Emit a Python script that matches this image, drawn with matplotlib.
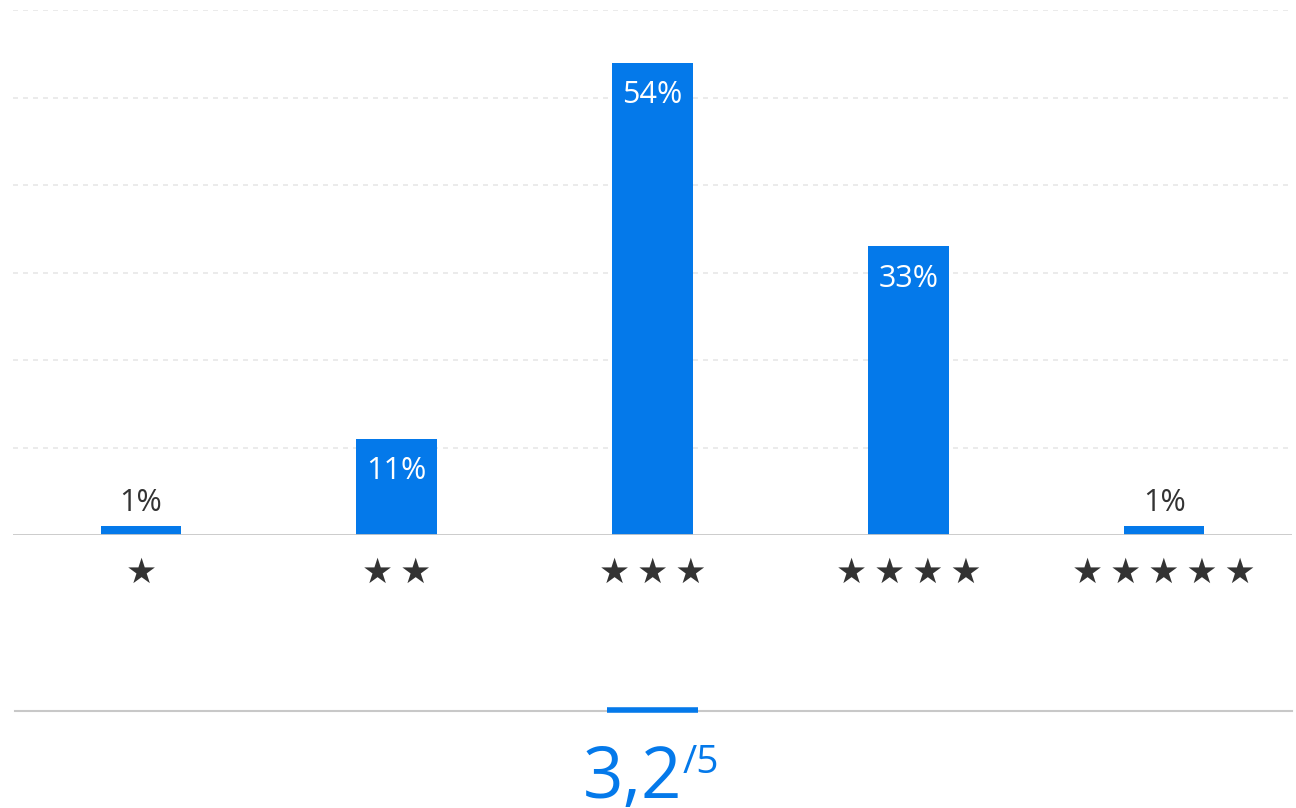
import matplotlib
matplotlib.use("Agg")
import matplotlib.pyplot as plt
from matplotlib.lines import Line2D

# Rating distribution (share of reviews per star level, in %)
ratings = [1, 2, 3, 4, 5]
shares = [1, 11, 54, 33, 1]
star_labels = ["\u2009".join("★" * r) for r in ratings]
max_rating = 5

BLUE = "#0479EA"
DARK = "#333333"
FONT = "Open Sans"

fig = plt.figure(figsize=(12.96, 8.08), dpi=100)
W, H = 1296, 808

ax = fig.add_axes([13 / W, 1 - 535 / H, (1292 - 13) / W, (535 - 10) / H])
ax.set_xlim(-0.5, len(ratings) - 0.5)
ax.set_ylim(0, 60)

x = list(range(len(ratings)))
bars = ax.bar(x, shares, width=0.315, color=BLUE, zorder=3)

# light dashed horizontal grid
for y in range(10, 61, 10):
    ax.axhline(y, color="#e8e8e8", lw=1.2, ls=(0, (3, 3)), zorder=1)
ax.axhline(0, color="#c8c8c8", lw=2, zorder=4)

for spine in ax.spines.values():
    spine.set_visible(False)
ax.set_yticks([])
ax.set_xticks(x)
ax.set_xticklabels(star_labels, fontsize=25, color=DARK, family=["DejaVu Sans"])
ax.tick_params(axis="x", length=0, pad=15)

# value labels: inside tall bars, above short ones
for xi, v in zip(x, shares):
    if v >= 5:
        ax.annotate(f"{v}%", (xi, v), xytext=(0, -23.5), textcoords="offset points",
                    ha="center", va="center", fontsize=22, color="white", family=FONT, zorder=5)
    else:
        ax.annotate(f"{v}%", (xi, v), xytext=(0, 16.5), textcoords="offset points",
                    ha="center", va="center", fontsize=22, color=DARK, family=FONT, zorder=5)

# average score block
avg = sum(r * s for r, s in zip(ratings, shares)) / sum(shares)
fig.add_artist(Line2D([15 / W, 1292 / W], [1 - 711 / H] * 2, color="#c8c8c8", lw=1.5))
fig.add_artist(Line2D([607 / W, 698 / W], [1 - 709.5 / H] * 2, color=BLUE, lw=4, solid_capstyle="butt"))

avg_txt = f"{avg:.1f}".replace(".", ",")
fig.text(682 / W, 1 - 798 / H, avg_txt, ha="right", va="baseline",
         fontsize=51, color=BLUE, family=FONT)
fig.text(683 / W, 1 - 773 / H, f"/{max_rating}", ha="left", va="baseline",
         fontsize=28, color=BLUE, family=FONT)

fig.savefig("out.png", dpi=100)
